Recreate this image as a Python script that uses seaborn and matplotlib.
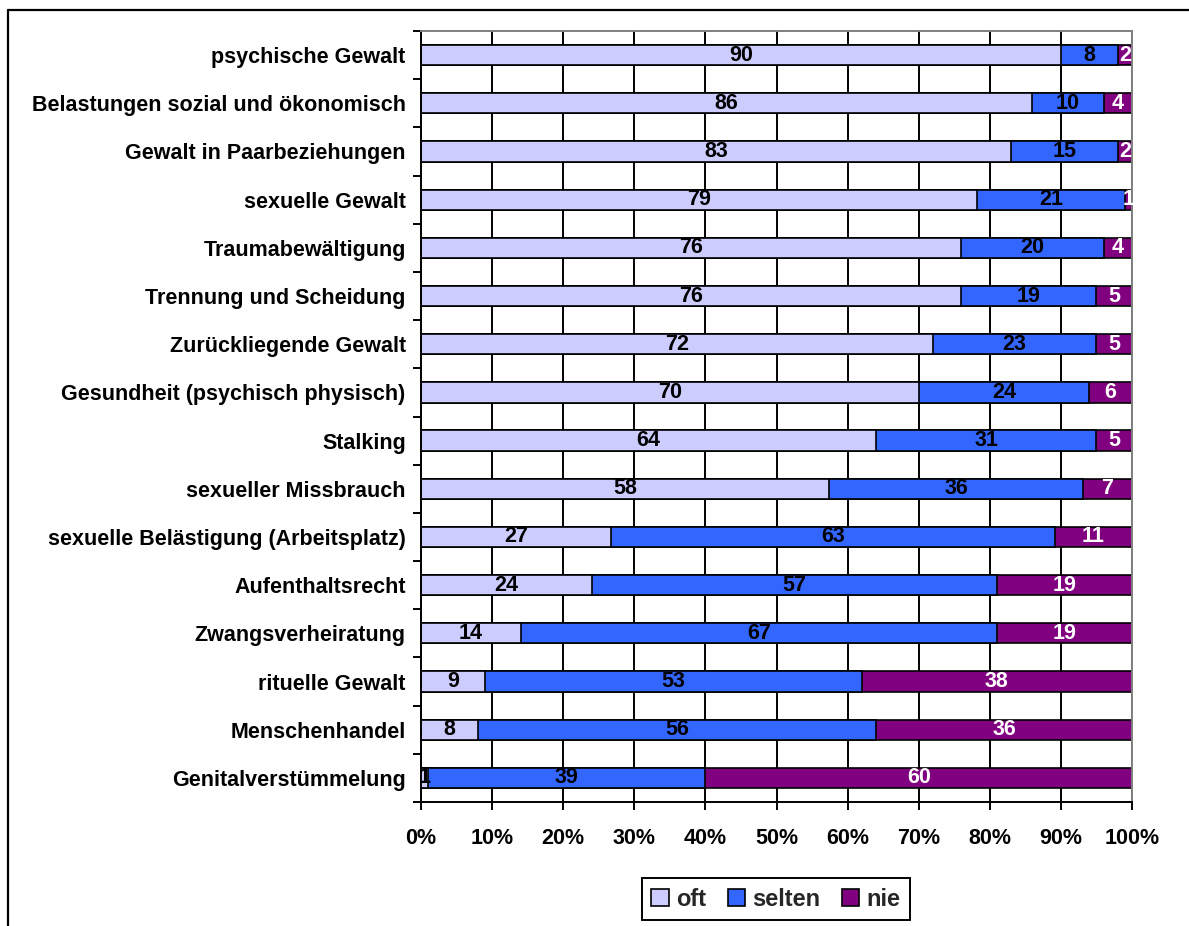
import matplotlib
matplotlib.use("Agg")
import matplotlib.pyplot as plt
from matplotlib.lines import Line2D
from matplotlib.patches import Patch
from matplotlib.ticker import FixedLocator, PercentFormatter
import numpy as np
import pandas as pd
import seaborn as sns

categories = [
    "psychische Gewalt",
    "Belastungen sozial und ökonomisch",
    "Gewalt in Paarbeziehungen",
    "sexuelle Gewalt",
    "Traumabewältigung",
    "Trennung und Scheidung",
    "Zurückliegende Gewalt",
    "Gesundheit (psychisch physisch)",
    "Stalking",
    "sexueller Missbrauch",
    "sexuelle Belästigung (Arbeitsplatz)",
    "Aufenthaltsrecht",
    "Zwangsverheiratung",
    "rituelle Gewalt",
    "Menschenhandel",
    "Genitalverstümmelung",
]
oft = [90, 86, 83, 79, 76, 76, 72, 70, 64, 58, 27, 24, 14, 9, 8, 1]
selten = [8, 10, 15, 21, 20, 19, 23, 24, 31, 36, 63, 57, 67, 53, 56, 39]
nie = [2, 4, 2, 1, 4, 5, 5, 6, 5, 7, 11, 19, 19, 38, 36, 60]
series_names = ["oft", "selten", "nie"]
colors = ["#CCCCFF", "#3366FF", "#800080"]
label_colors = ["black", "black", "white"]
xticks = [0, 10, 20, 30, 40, 50, 60, 70, 80, 90, 100]

sns.set_theme(style="white")
plt.rcParams["font.family"] = ["Liberation Sans", "DejaVu Sans"]
plt.rcParams["font.weight"] = "bold"

FS = 15.5

vals = np.array([oft, selten, nie], dtype=float)
pct = vals / vals.sum(axis=0) * 100.0
cum = np.cumsum(pct, axis=0)

df = pd.DataFrame({"cat": categories})
for i, name in enumerate(series_names):
    df[name + "_cum"] = cum[i]

fig = plt.figure(figsize=(11.89, 9.26), dpi=100)
ax = fig.add_axes([421 / 1189, 1 - 802 / 926, (1132 - 421) / 1189, (802 - 31) / 926])

# vertical grid lines
for xv in xticks:
    ax.axvline(xv, color="black", lw=1.4, zorder=0)

for i in reversed(range(3)):
    sns.barplot(data=df, x=series_names[i] + "_cum", y="cat", orient="h",
                color=colors[i], saturation=1, width=0.42,
                edgecolor="black", linewidth=1.2, ax=ax, zorder=2)

# labels
for i in range(3):
    start = cum[i] - pct[i]
    for j, cat in enumerate(categories):
        xc = start[j] + pct[i][j] / 2
        ax.text(xc, j, str(int(vals[i][j])), ha="center", va="center",
                fontsize=FS, fontweight="bold", color=label_colors[i], zorder=5)

ax.set_xlim(0, 100)
ax.set_ylim(len(categories) - 0.5, -0.5)
ax.xaxis.set_major_locator(FixedLocator(xticks))
ax.xaxis.set_major_formatter(PercentFormatter(decimals=0))
ax.set_xlabel("")
ax.set_ylabel("")
ax.tick_params(axis="x", which="major", length=6, width=1.4, color="black",
               direction="out", labelsize=FS, pad=13, bottom=True)
ax.tick_params(axis="y", which="major", length=0, labelsize=FS, pad=11)
ax.yaxis.set_minor_locator(FixedLocator([k - 0.5 for k in range(len(categories) + 1)]))
ax.tick_params(axis="y", which="minor", length=6, width=1.4, color="black",
               direction="out", left=True)
for lbl in ax.get_xticklabels() + ax.get_yticklabels():
    lbl.set_fontweight("bold")
    lbl.set_color("black")

for s in ["left", "bottom"]:
    ax.spines[s].set_color("black")
    ax.spines[s].set_linewidth(1.4)
for s in ["top", "right"]:
    ax.spines[s].set_color("#808080")
    ax.spines[s].set_linewidth(1.4)
    ax.spines[s].set_visible(True)
ax.grid(False)

handles = [Patch(facecolor=c, edgecolor="black", linewidth=1.2) for c in colors]
leg = fig.legend(handles, series_names, loc="center", bbox_to_anchor=(776 / 1189, 1 - 899 / 926),
                 ncol=3, frameon=True, fancybox=False, framealpha=1,
                 prop={"size": 17, "weight": "bold"}, handlelength=0.75, handleheight=0.75,
                 handletextpad=0.3, columnspacing=0.9, borderpad=0.4)
leg.get_frame().set_edgecolor("black")
leg.get_frame().set_linewidth(1.4)

# outer frame
fig.add_artist(Line2D([8 / 1189, 8 / 1189], [0, 1 - 10 / 926], color="black", lw=1.6,
                      transform=fig.transFigure))
fig.add_artist(Line2D([8 / 1189, 1], [1 - 10 / 926, 1 - 10 / 926], color="black", lw=1.6,
                      transform=fig.transFigure))

fig.savefig("out.png", dpi=100, facecolor="white")
